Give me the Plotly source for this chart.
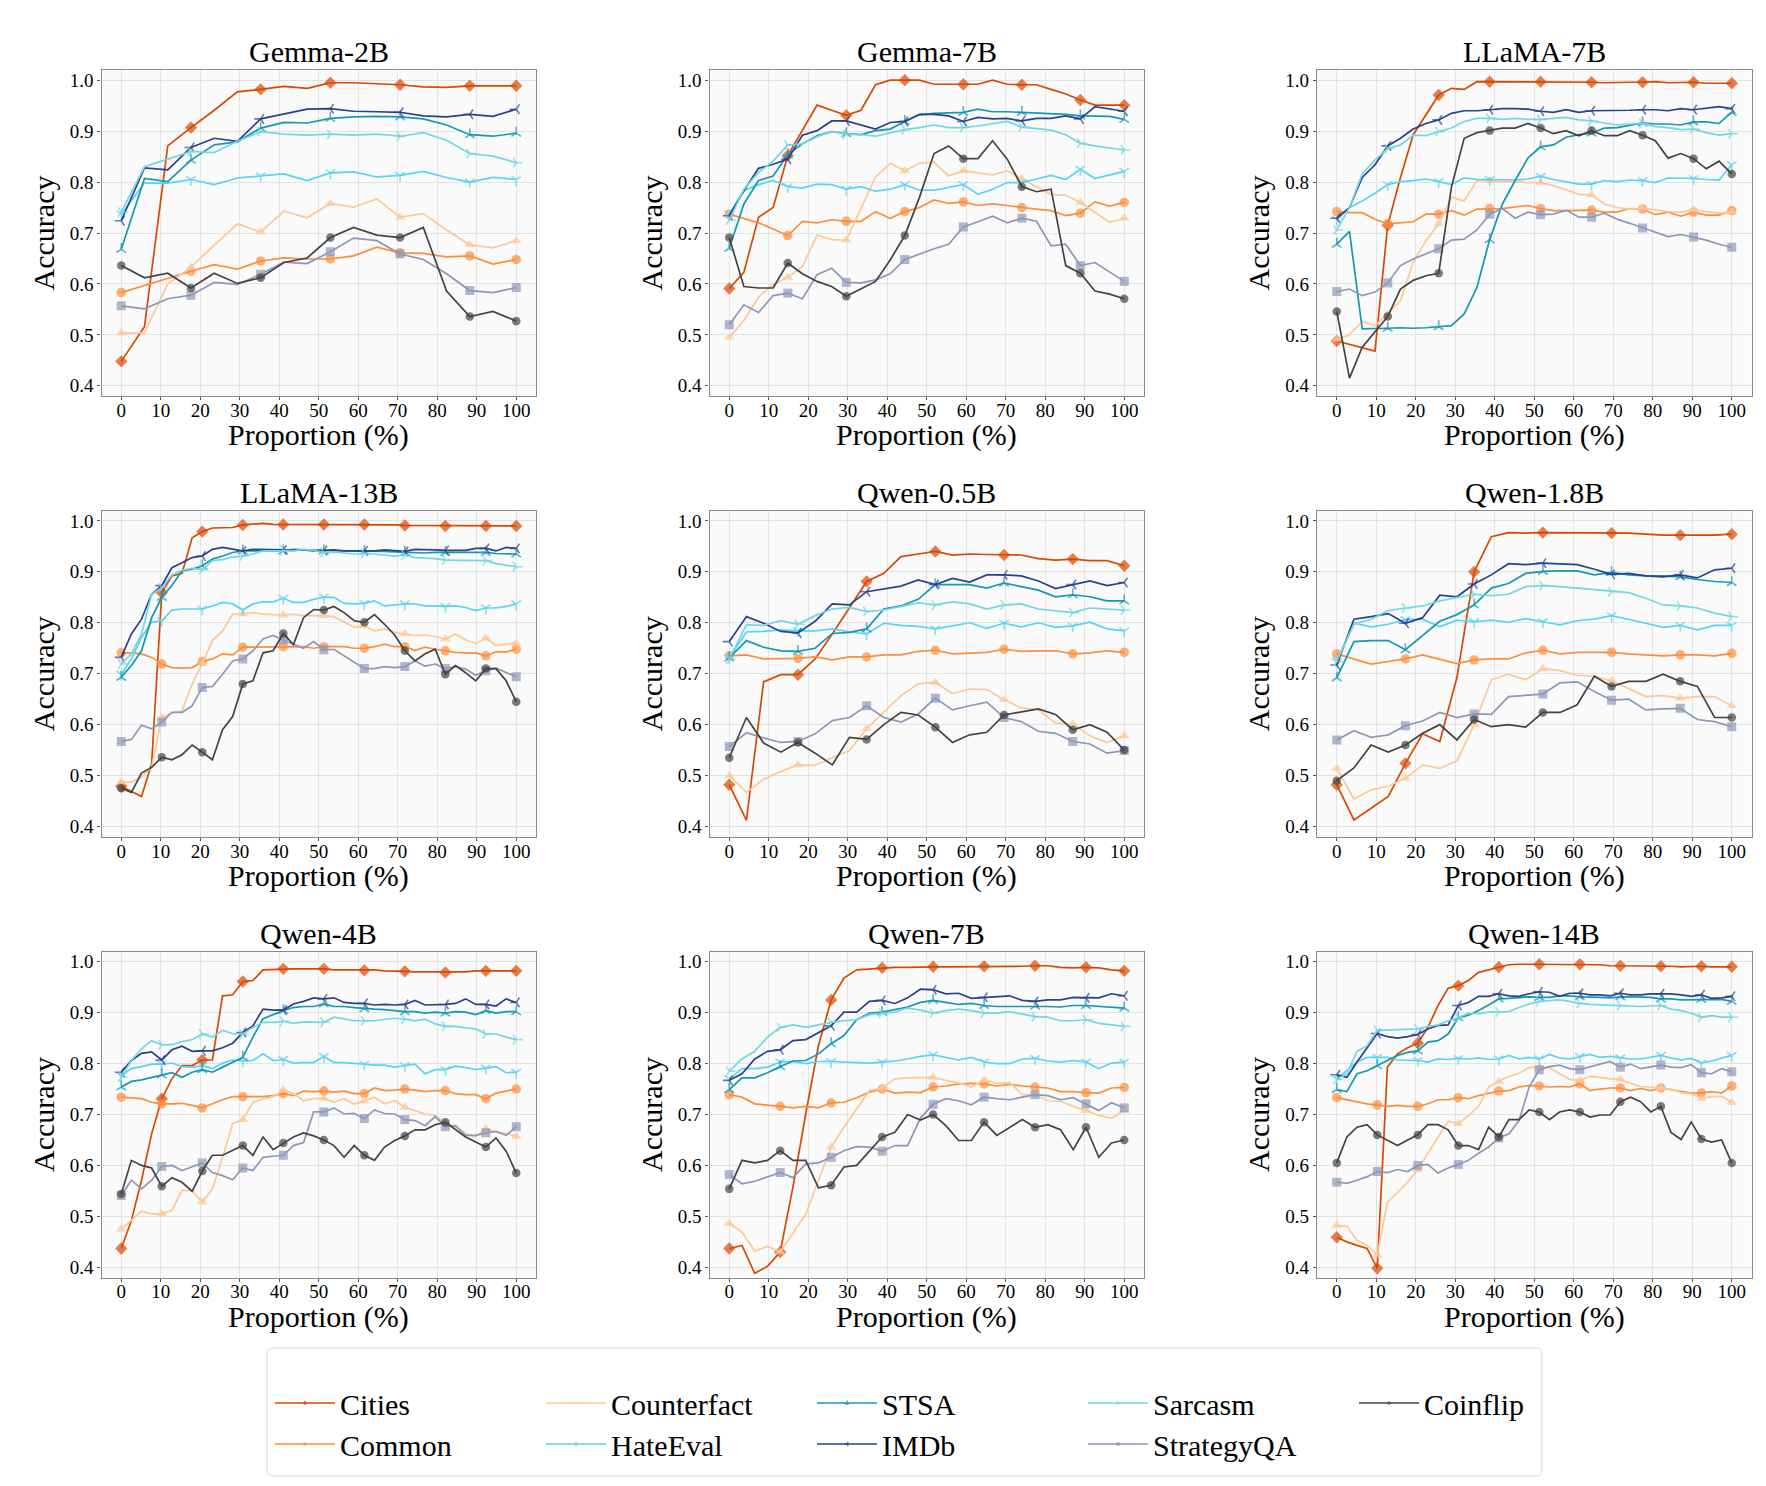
import plotly.graph_objects as go

# ---------------- data ----------------
MODELS = ["Gemma-2B", "Gemma-7B", "LLaMA-7B", "LLaMA-13B", "Qwen-0.5B",
          "Qwen-1.8B", "Qwen-4B", "Qwen-7B", "Qwen-14B"]
SERIES = ["Cities", "Common", "Counterfact", "HateEval", "STSA", "IMDb",
          "Sarcasm", "StrategyQA", "Coinflip"]
X_TICKS = [0, 10, 20, 30, 40, 50, 60, 70, 80, 90, 100]
Y_TICKS = [0.4, 0.5, 0.6, 0.7, 0.8, 0.9, 1.0]

GEMMA_2B = {
    "Cities": [0.448,0.516,0.871,0.907,0.941,0.977,0.982,0.988,0.984,0.995,0.995,0.993,0.991,0.987,0.986,0.989,0.989,0.989],
    "Common": [0.583,0.597,0.612,0.625,0.638,0.629,0.645,0.651,0.649,0.649,0.655,0.672,0.661,0.660,0.653,0.655,0.639,0.648],
    "Counterfact": [0.504,0.504,0.600,0.633,0.676,0.718,0.702,0.743,0.730,0.758,0.751,0.767,0.731,0.738,0.706,0.677,0.671,0.685],
    "HateEval": [0.737,0.798,0.798,0.805,0.795,0.808,0.812,0.816,0.803,0.818,0.820,0.810,0.813,0.821,0.809,0.800,0.809,0.805],
    "STSA": [0.668,0.807,0.801,0.843,0.873,0.879,0.906,0.917,0.916,0.925,0.928,0.929,0.928,0.924,0.912,0.893,0.890,0.896],
    "IMDb": [0.724,0.828,0.824,0.868,0.886,0.880,0.924,0.933,0.943,0.944,0.939,0.938,0.937,0.930,0.928,0.933,0.929,0.943],
    "Sarcasm": [0.741,0.830,0.845,0.860,0.858,0.880,0.899,0.894,0.892,0.894,0.892,0.894,0.890,0.897,0.882,0.856,0.851,0.838],
    "StrategyQA": [0.557,0.551,0.571,0.578,0.603,0.599,0.619,0.643,0.640,0.663,0.690,0.685,0.659,0.648,0.620,0.587,0.583,0.593],
    "Coinflip": [0.636,0.612,0.621,0.592,0.621,0.601,0.612,0.642,0.651,0.691,0.711,0.696,0.691,0.711,0.586,0.536,0.546,0.527],
}

GEMMA_7B = {
    "Cities": [0.591,0.623,0.731,0.750,0.852,0.901,0.951,0.941,0.931,0.941,0.991,1.000,1.000,1.000,0.992,0.992,0.992,0.992,1.000,0.992,0.991,0.991,0.982,0.973,0.961,0.951,0.951,0.951],
    "Common": [0.737,0.729,0.720,0.708,0.695,0.723,0.720,0.726,0.723,0.723,0.742,0.729,0.742,0.750,0.765,0.758,0.761,0.754,0.757,0.754,0.750,0.747,0.744,0.734,0.739,0.761,0.753,0.760],
    "Counterfact": [0.495,0.528,0.574,0.599,0.613,0.634,0.696,0.687,0.686,0.748,0.810,0.837,0.822,0.837,0.839,0.812,0.822,0.818,0.814,0.822,0.806,0.791,0.776,0.774,0.760,0.741,0.721,0.729],
    "HateEval": [0.737,0.783,0.795,0.803,0.791,0.788,0.796,0.795,0.786,0.791,0.782,0.786,0.795,0.784,0.784,0.790,0.795,0.776,0.786,0.799,0.799,0.806,0.813,0.805,0.825,0.807,0.814,0.821],
    "STSA": [0.670,0.757,0.803,0.812,0.854,0.875,0.891,0.899,0.895,0.893,0.901,0.904,0.919,0.932,0.935,0.936,0.937,0.943,0.938,0.938,0.937,0.935,0.935,0.933,0.930,0.930,0.929,0.923],
    "IMDb": [0.734,0.783,0.827,0.835,0.845,0.892,0.901,0.920,0.920,0.912,0.904,0.917,0.919,0.933,0.933,0.930,0.919,0.927,0.924,0.925,0.920,0.925,0.925,0.930,0.924,0.948,0.943,0.939],
    "Sarcasm": [0.725,0.786,0.819,0.841,0.873,0.875,0.889,0.899,0.894,0.893,0.890,0.897,0.903,0.907,0.912,0.907,0.907,0.910,0.914,0.919,0.908,0.905,0.902,0.893,0.876,0.871,0.867,0.863],
    "StrategyQA": [0.520,0.559,0.544,0.577,0.582,0.571,0.618,0.631,0.603,0.602,0.608,0.620,0.648,0.659,0.669,0.678,0.712,0.722,0.733,0.720,0.729,0.723,0.675,0.678,0.636,0.642,0.623,0.605],
    "Coinflip": [0.691,0.595,0.592,0.592,0.641,0.620,0.605,0.595,0.576,0.590,0.605,0.647,0.695,0.770,0.856,0.871,0.846,0.846,0.881,0.845,0.791,0.781,0.786,0.636,0.621,0.586,0.580,0.571],
}

LLAMA_7B = {
    "Cities": [0.488,0.481,0.474,0.468,0.715,0.809,0.893,0.933,0.971,0.984,0.982,0.997,0.997,0.997,0.997,0.997,0.997,0.997,0.996,0.996,0.996,0.995,0.996,0.996,0.996,0.997,0.995,0.995,0.996,0.994,0.994,0.994],
    "Common": [0.742,0.740,0.740,0.727,0.718,0.720,0.722,0.737,0.737,0.744,0.735,0.747,0.748,0.748,0.751,0.754,0.748,0.744,0.744,0.744,0.745,0.741,0.741,0.748,0.747,0.736,0.741,0.733,0.741,0.735,0.735,0.744],
    "Counterfact": [0.491,0.500,0.527,0.518,0.541,0.567,0.642,0.685,0.718,0.770,0.763,0.803,0.803,0.801,0.801,0.799,0.799,0.793,0.785,0.776,0.775,0.757,0.750,0.747,0.749,0.745,0.742,0.741,0.745,0.742,0.739,0.741],
    "HateEval": [0.727,0.750,0.763,0.778,0.795,0.801,0.803,0.806,0.801,0.795,0.808,0.805,0.805,0.804,0.804,0.806,0.811,0.805,0.801,0.796,0.796,0.803,0.801,0.804,0.803,0.799,0.808,0.808,0.807,0.805,0.804,0.834],
    "STSA": [0.678,0.703,0.512,0.512,0.513,0.514,0.513,0.514,0.516,0.518,0.541,0.593,0.687,0.757,0.803,0.847,0.869,0.873,0.888,0.893,0.896,0.906,0.907,0.912,0.916,0.914,0.914,0.912,0.918,0.918,0.915,0.937],
    "IMDb": [0.729,0.750,0.809,0.834,0.871,0.886,0.904,0.915,0.922,0.935,0.940,0.940,0.942,0.944,0.944,0.943,0.939,0.937,0.942,0.937,0.940,0.940,0.940,0.941,0.942,0.942,0.940,0.944,0.942,0.945,0.948,0.944],
    "Sarcasm": [0.706,0.750,0.816,0.843,0.866,0.873,0.892,0.891,0.899,0.906,0.919,0.925,0.925,0.923,0.925,0.923,0.923,0.925,0.927,0.922,0.920,0.916,0.912,0.914,0.915,0.909,0.907,0.903,0.904,0.897,0.892,0.895],
    "StrategyQA": [0.585,0.590,0.577,0.584,0.602,0.636,0.649,0.659,0.669,0.686,0.688,0.706,0.737,0.748,0.729,0.741,0.736,0.737,0.745,0.731,0.731,0.739,0.727,0.719,0.710,0.701,0.693,0.697,0.692,0.686,0.678,0.672],
    "Coinflip": [0.546,0.415,0.476,0.505,0.536,0.590,0.607,0.616,0.621,0.790,0.886,0.897,0.901,0.906,0.906,0.915,0.906,0.895,0.901,0.891,0.901,0.891,0.891,0.901,0.892,0.881,0.847,0.856,0.846,0.826,0.841,0.816],
}

LLAMA_13B = {
    "Cities": [0.479,0.469,0.459,0.523,0.859,0.892,0.897,0.967,0.979,0.986,0.987,0.987,0.992,0.993,0.995,0.993,0.993,0.993,0.993,0.993,0.993,0.993,0.993,0.993,0.993,0.992,0.992,0.992,0.991,0.991,0.990,0.990,0.990,0.990,0.990,0.990,0.990,0.990,0.990,0.990],
    "Common": [0.741,0.741,0.739,0.732,0.719,0.712,0.711,0.712,0.724,0.729,0.739,0.737,0.752,0.752,0.753,0.753,0.753,0.753,0.753,0.750,0.753,0.753,0.753,0.750,0.750,0.753,0.758,0.753,0.753,0.746,0.752,0.748,0.745,0.742,0.741,0.741,0.735,0.743,0.743,0.748],
    "Counterfact": [0.487,0.487,0.497,0.516,0.614,0.623,0.627,0.680,0.720,0.765,0.784,0.817,0.818,0.820,0.817,0.816,0.815,0.817,0.814,0.814,0.814,0.812,0.801,0.791,0.794,0.784,0.788,0.781,0.778,0.775,0.776,0.773,0.768,0.778,0.766,0.759,0.770,0.755,0.758,0.760],
    "HateEval": [0.699,0.729,0.771,0.801,0.804,0.825,0.827,0.827,0.827,0.833,0.840,0.837,0.825,0.837,0.841,0.841,0.848,0.840,0.840,0.846,0.850,0.850,0.838,0.837,0.838,0.843,0.833,0.835,0.837,0.837,0.833,0.833,0.832,0.833,0.830,0.824,0.829,0.829,0.832,0.837],
    "STSA": [0.693,0.716,0.745,0.810,0.850,0.873,0.902,0.905,0.912,0.925,0.931,0.938,0.941,0.941,0.941,0.942,0.941,0.944,0.943,0.942,0.941,0.941,0.941,0.941,0.940,0.940,0.940,0.939,0.938,0.938,0.937,0.938,0.938,0.937,0.938,0.938,0.938,0.936,0.935,0.935],
    "IMDb": [0.732,0.778,0.807,0.856,0.873,0.908,0.918,0.928,0.931,0.944,0.948,0.944,0.941,0.944,0.944,0.944,0.943,0.942,0.943,0.941,0.942,0.943,0.941,0.941,0.941,0.941,0.943,0.941,0.940,0.944,0.944,0.943,0.942,0.942,0.942,0.946,0.946,0.941,0.948,0.946],
    "Sarcasm": [0.719,0.739,0.778,0.856,0.869,0.894,0.903,0.907,0.904,0.922,0.924,0.929,0.931,0.935,0.941,0.941,0.942,0.941,0.944,0.942,0.938,0.939,0.937,0.935,0.936,0.935,0.933,0.931,0.933,0.928,0.927,0.926,0.923,0.923,0.923,0.923,0.922,0.916,0.913,0.910],
    "StrategyQA": [0.567,0.571,0.599,0.592,0.605,0.624,0.624,0.637,0.673,0.675,0.699,0.725,0.729,0.745,0.768,0.775,0.766,0.758,0.750,0.763,0.747,0.748,0.735,0.722,0.710,0.710,0.714,0.712,0.714,0.725,0.715,0.719,0.710,0.714,0.709,0.697,0.706,0.711,0.703,0.694],
    "Coinflip": [0.475,0.467,0.505,0.516,0.536,0.531,0.541,0.560,0.546,0.531,0.590,0.616,0.680,0.686,0.741,0.745,0.779,0.757,0.810,0.826,0.825,0.832,0.820,0.804,0.801,0.816,0.797,0.776,0.745,0.725,0.739,0.748,0.699,0.716,0.702,0.686,0.710,0.710,0.686,0.645],
}

QWEN_05B = {
    "Cities": [0.482,0.412,0.684,0.698,0.698,0.729,0.778,0.830,0.881,0.897,0.930,0.935,0.940,0.933,0.935,0.934,0.933,0.933,0.926,0.923,0.925,0.922,0.922,0.912],
    "Common": [0.735,0.737,0.729,0.730,0.730,0.733,0.727,0.733,0.733,0.737,0.737,0.744,0.746,0.739,0.741,0.742,0.748,0.744,0.745,0.745,0.739,0.741,0.745,0.742],
    "Counterfact": [0.500,0.467,0.493,0.508,0.521,0.520,0.535,0.549,0.592,0.625,0.657,0.680,0.683,0.661,0.670,0.669,0.649,0.633,0.629,0.603,0.601,0.578,0.565,0.578],
    "HateEval": [0.731,0.782,0.783,0.786,0.784,0.784,0.788,0.782,0.778,0.799,0.795,0.793,0.788,0.794,0.800,0.789,0.799,0.792,0.800,0.791,0.794,0.801,0.788,0.784],
    "STSA": [0.731,0.765,0.752,0.745,0.744,0.750,0.779,0.781,0.788,0.827,0.833,0.846,0.875,0.875,0.875,0.868,0.878,0.871,0.864,0.851,0.855,0.851,0.843,0.843],
    "IMDb": [0.763,0.812,0.799,0.783,0.780,0.803,0.837,0.835,0.861,0.866,0.872,0.884,0.875,0.887,0.880,0.894,0.894,0.892,0.882,0.867,0.875,0.882,0.873,0.879],
    "Sarcasm": [0.729,0.796,0.795,0.804,0.797,0.814,0.827,0.830,0.822,0.825,0.832,0.839,0.835,0.841,0.837,0.827,0.835,0.837,0.827,0.824,0.820,0.829,0.827,0.825],
    "StrategyQA": [0.557,0.584,0.574,0.565,0.567,0.582,0.608,0.614,0.637,0.614,0.605,0.621,0.652,0.629,0.637,0.644,0.614,0.606,0.587,0.583,0.567,0.562,0.544,0.549],
    "Coinflip": [0.535,0.614,0.564,0.546,0.565,0.544,0.521,0.575,0.571,0.600,0.624,0.619,0.595,0.565,0.580,0.585,0.619,0.625,0.631,0.620,0.590,0.600,0.585,0.550],
}

QWEN_18B = {
    "Cities": [0.482,0.413,0.436,0.459,0.524,0.582,0.567,0.693,0.900,0.969,0.977,0.976,0.977,0.977,0.977,0.977,0.976,0.976,0.974,0.972,0.972,0.972,0.972,0.974],
    "Common": [0.739,0.729,0.719,0.724,0.729,0.737,0.729,0.720,0.727,0.729,0.729,0.741,0.746,0.739,0.742,0.742,0.742,0.739,0.737,0.735,0.737,0.737,0.735,0.740],
    "Counterfact": [0.514,0.454,0.472,0.479,0.495,0.521,0.514,0.529,0.600,0.688,0.699,0.688,0.710,0.706,0.697,0.695,0.686,0.670,0.655,0.657,0.652,0.655,0.655,0.637],
    "HateEval": [0.724,0.799,0.792,0.797,0.806,0.807,0.792,0.805,0.802,0.805,0.801,0.808,0.802,0.796,0.804,0.807,0.814,0.807,0.799,0.791,0.795,0.786,0.795,0.795],
    "STSA": [0.692,0.763,0.765,0.765,0.747,0.775,0.803,0.816,0.835,0.868,0.877,0.897,0.901,0.902,0.902,0.894,0.899,0.894,0.892,0.892,0.890,0.885,0.881,0.879],
    "IMDb": [0.717,0.807,0.812,0.818,0.799,0.810,0.854,0.851,0.876,0.894,0.916,0.914,0.917,0.915,0.914,0.905,0.895,0.897,0.892,0.890,0.894,0.888,0.904,0.907],
    "Sarcasm": [0.724,0.797,0.807,0.824,0.829,0.833,0.843,0.850,0.856,0.853,0.856,0.871,0.873,0.871,0.868,0.865,0.861,0.859,0.848,0.835,0.833,0.829,0.819,0.812],
    "StrategyQA": [0.570,0.588,0.575,0.580,0.598,0.607,0.624,0.614,0.621,0.620,0.655,0.658,0.660,0.682,0.684,0.665,0.648,0.650,0.629,0.631,0.632,0.610,0.606,0.596],
    "Coinflip": [0.490,0.515,0.560,0.546,0.560,0.583,0.600,0.570,0.610,0.596,0.600,0.595,0.624,0.624,0.639,0.695,0.675,0.685,0.685,0.699,0.685,0.675,0.614,0.614],
}

QWEN_4B = {
    "Cities": [0.437,0.492,0.571,0.662,0.731,0.770,0.796,0.796,0.807,0.807,0.933,0.935,0.961,0.963,0.984,0.985,0.986,0.986,0.986,0.986,0.986,0.984,0.984,0.984,0.983,0.984,0.982,0.982,0.981,0.980,0.980,0.980,0.979,0.980,0.980,0.982,0.982,0.982,0.982,0.982],
    "Common": [0.734,0.732,0.731,0.724,0.721,0.721,0.722,0.718,0.713,0.721,0.729,0.735,0.735,0.734,0.735,0.737,0.741,0.737,0.746,0.745,0.746,0.744,0.746,0.741,0.741,0.752,0.747,0.748,0.750,0.748,0.745,0.747,0.747,0.741,0.739,0.739,0.731,0.742,0.746,0.750],
    "Counterfact": [0.475,0.492,0.510,0.505,0.505,0.512,0.551,0.551,0.528,0.554,0.615,0.682,0.690,0.724,0.731,0.735,0.748,0.741,0.727,0.731,0.732,0.724,0.731,0.720,0.727,0.734,0.721,0.727,0.714,0.708,0.701,0.698,0.683,0.675,0.663,0.656,0.672,0.665,0.663,0.657],
    "HateEval": [0.776,0.790,0.794,0.799,0.799,0.801,0.794,0.793,0.796,0.790,0.801,0.807,0.805,0.806,0.819,0.806,0.808,0.801,0.802,0.802,0.814,0.802,0.802,0.801,0.799,0.797,0.797,0.793,0.796,0.799,0.780,0.788,0.788,0.795,0.792,0.788,0.791,0.794,0.782,0.783],
    "STSA": [0.754,0.765,0.768,0.773,0.778,0.782,0.773,0.783,0.788,0.783,0.793,0.803,0.812,0.852,0.888,0.896,0.904,0.910,0.912,0.912,0.917,0.912,0.912,0.910,0.908,0.907,0.906,0.904,0.902,0.902,0.899,0.901,0.899,0.902,0.901,0.896,0.904,0.899,0.902,0.902],
    "IMDb": [0.783,0.806,0.820,0.823,0.807,0.827,0.834,0.824,0.825,0.825,0.831,0.840,0.861,0.874,0.907,0.905,0.905,0.917,0.922,0.929,0.927,0.929,0.920,0.918,0.918,0.915,0.916,0.915,0.916,0.924,0.915,0.915,0.916,0.918,0.927,0.916,0.916,0.913,0.927,0.920],
    "Sarcasm": [0.773,0.806,0.829,0.845,0.837,0.837,0.843,0.847,0.858,0.852,0.865,0.859,0.858,0.871,0.881,0.881,0.883,0.879,0.882,0.882,0.881,0.891,0.888,0.884,0.884,0.884,0.887,0.889,0.887,0.884,0.887,0.878,0.873,0.873,0.870,0.868,0.858,0.858,0.852,0.847],
    "StrategyQA": [0.541,0.571,0.554,0.571,0.598,0.600,0.590,0.598,0.605,0.586,0.580,0.572,0.595,0.590,0.616,0.618,0.620,0.639,0.645,0.705,0.705,0.713,0.701,0.702,0.692,0.709,0.702,0.701,0.690,0.688,0.678,0.696,0.676,0.678,0.659,0.659,0.664,0.667,0.659,0.676],
    "Coinflip": [0.544,0.610,0.600,0.595,0.559,0.576,0.567,0.549,0.589,0.620,0.620,0.629,0.639,0.620,0.656,0.631,0.644,0.656,0.664,0.658,0.650,0.639,0.616,0.639,0.620,0.610,0.636,0.649,0.658,0.670,0.670,0.680,0.685,0.670,0.656,0.646,0.636,0.654,0.628,0.585],
}

QWEN_7B = {
    "Cities": [0.437,0.443,0.388,0.402,0.430,0.558,0.701,0.835,0.925,0.968,0.984,0.986,0.988,0.989,0.989,0.990,0.990,0.990,0.990,0.990,0.991,0.991,0.991,0.991,0.992,0.992,0.989,0.988,0.989,0.988,0.984,0.982],
    "Common": [0.739,0.734,0.721,0.719,0.716,0.713,0.716,0.713,0.723,0.724,0.733,0.744,0.750,0.742,0.744,0.743,0.754,0.756,0.760,0.761,0.760,0.756,0.759,0.756,0.754,0.752,0.745,0.745,0.743,0.742,0.752,0.753],
    "Counterfact": [0.486,0.469,0.432,0.441,0.430,0.466,0.504,0.571,0.636,0.675,0.711,0.747,0.752,0.770,0.772,0.772,0.773,0.767,0.762,0.754,0.768,0.761,0.763,0.739,0.739,0.727,0.726,0.716,0.708,0.698,0.693,0.708],
    "HateEval": [0.770,0.790,0.790,0.793,0.803,0.804,0.800,0.804,0.804,0.803,0.803,0.801,0.803,0.805,0.809,0.814,0.817,0.812,0.807,0.812,0.803,0.800,0.800,0.809,0.810,0.805,0.803,0.806,0.803,0.790,0.801,0.803],
    "STSA": [0.749,0.772,0.772,0.782,0.794,0.805,0.806,0.819,0.839,0.855,0.886,0.899,0.901,0.906,0.911,0.920,0.924,0.920,0.916,0.918,0.914,0.912,0.912,0.912,0.913,0.912,0.911,0.914,0.914,0.912,0.911,0.909],
    "IMDb": [0.767,0.780,0.809,0.824,0.827,0.845,0.847,0.861,0.874,0.901,0.901,0.922,0.924,0.918,0.929,0.946,0.945,0.937,0.938,0.928,0.930,0.932,0.933,0.924,0.922,0.925,0.925,0.930,0.929,0.929,0.937,0.933],
    "Sarcasm": [0.785,0.809,0.824,0.852,0.871,0.876,0.871,0.876,0.881,0.884,0.886,0.896,0.899,0.901,0.909,0.905,0.899,0.904,0.907,0.904,0.899,0.899,0.902,0.897,0.892,0.891,0.884,0.884,0.886,0.879,0.876,0.873],
    "StrategyQA": [0.582,0.564,0.569,0.578,0.586,0.576,0.603,0.605,0.616,0.629,0.637,0.636,0.628,0.639,0.639,0.693,0.720,0.731,0.727,0.719,0.734,0.731,0.729,0.734,0.739,0.737,0.729,0.733,0.721,0.708,0.723,0.713],
    "Coinflip": [0.554,0.610,0.605,0.610,0.629,0.610,0.610,0.556,0.561,0.597,0.600,0.629,0.656,0.665,0.700,0.689,0.700,0.678,0.649,0.649,0.685,0.659,0.675,0.690,0.675,0.680,0.670,0.631,0.675,0.616,0.644,0.650],
}

QWEN_14B = {
    "Cities": [0.459,0.450,0.443,0.437,0.398,0.793,0.819,0.831,0.840,0.871,0.914,0.948,0.953,0.963,0.979,0.984,0.989,0.994,0.995,0.995,0.995,0.995,0.995,0.995,0.995,0.995,0.994,0.992,0.992,0.992,0.991,0.992,0.991,0.991,0.990,0.991,0.991,0.990,0.990,0.990],
    "Common": [0.733,0.729,0.724,0.721,0.719,0.716,0.718,0.716,0.716,0.721,0.729,0.729,0.733,0.731,0.737,0.742,0.746,0.747,0.754,0.757,0.756,0.754,0.755,0.754,0.760,0.747,0.750,0.752,0.752,0.747,0.751,0.747,0.752,0.749,0.745,0.742,0.742,0.745,0.742,0.756],
    "Counterfact": [0.482,0.481,0.453,0.443,0.424,0.528,0.546,0.567,0.592,0.623,0.656,0.687,0.682,0.698,0.716,0.754,0.765,0.775,0.781,0.792,0.793,0.792,0.780,0.769,0.767,0.775,0.773,0.770,0.769,0.761,0.755,0.754,0.752,0.750,0.743,0.741,0.731,0.735,0.736,0.724],
    "HateEval": [0.770,0.786,0.803,0.812,0.812,0.812,0.807,0.806,0.806,0.803,0.809,0.808,0.810,0.809,0.811,0.808,0.809,0.816,0.809,0.812,0.809,0.818,0.811,0.809,0.814,0.818,0.812,0.814,0.811,0.809,0.809,0.812,0.816,0.811,0.807,0.810,0.801,0.805,0.810,0.816],
    "STSA": [0.749,0.745,0.780,0.786,0.796,0.806,0.816,0.822,0.825,0.842,0.845,0.858,0.890,0.895,0.904,0.915,0.927,0.928,0.930,0.931,0.930,0.930,0.933,0.933,0.931,0.931,0.930,0.929,0.931,0.931,0.931,0.930,0.927,0.927,0.925,0.925,0.926,0.925,0.926,0.922],
    "IMDb": [0.778,0.773,0.803,0.832,0.859,0.853,0.850,0.853,0.857,0.868,0.875,0.876,0.914,0.920,0.932,0.932,0.937,0.933,0.932,0.937,0.941,0.940,0.932,0.938,0.938,0.935,0.935,0.933,0.938,0.935,0.935,0.937,0.937,0.937,0.935,0.932,0.935,0.928,0.929,0.932],
    "Sarcasm": [0.769,0.780,0.824,0.835,0.865,0.866,0.867,0.867,0.868,0.873,0.876,0.884,0.890,0.899,0.898,0.901,0.901,0.902,0.910,0.917,0.922,0.923,0.925,0.922,0.918,0.916,0.915,0.915,0.914,0.913,0.912,0.913,0.914,0.907,0.904,0.899,0.891,0.894,0.891,0.891],
    "StrategyQA": [0.567,0.565,0.571,0.578,0.588,0.586,0.592,0.588,0.600,0.602,0.585,0.595,0.602,0.610,0.624,0.636,0.654,0.662,0.688,0.754,0.788,0.794,0.797,0.790,0.788,0.793,0.798,0.804,0.793,0.799,0.790,0.793,0.797,0.793,0.792,0.798,0.782,0.780,0.790,0.784],
    "Coinflip": [0.605,0.656,0.675,0.680,0.660,0.649,0.639,0.650,0.660,0.680,0.680,0.670,0.639,0.639,0.631,0.675,0.656,0.690,0.690,0.709,0.705,0.690,0.705,0.709,0.705,0.695,0.699,0.699,0.725,0.734,0.725,0.705,0.716,0.665,0.651,0.685,0.652,0.646,0.650,0.605],
}

MODEL_DATA = [GEMMA_2B, GEMMA_7B, LLAMA_7B, LLAMA_13B, QWEN_05B,
              QWEN_18B, QWEN_4B, QWEN_7B, QWEN_14B]
MARK_EVERY = [3, 4, 4, 4, 4, 4, 4, 4, 4]

# ---------------- style ----------------
FONT = "Liberation Serif, Times New Roman, serif"
COLORS = {
    "Cities": "#D94801", "Common": "#FD8D3C", "Counterfact": "#FDC895",
    "HateEval": "#58D3F6", "STSA": "#1697B3", "IMDb": "#28418C",
    "Sarcasm": "#72D6E3", "StrategyQA": "#8E97B7", "Coinflip": "#434343",
}
SYMBOLS = {
    "Cities": "diamond", "Common": "circle", "Counterfact": "triangle-up",
    "HateEval": "y-down", "STSA": "y-up", "IMDb": "y-left",
    "Sarcasm": "y-right", "StrategyQA": "square", "Coinflip": "circle",
}
SIZES = {
    "Cities": 9.5, "Common": 9.5, "Counterfact": 9.5, "HateEval": 8, "STSA": 8,
    "IMDb": 8, "Sarcasm": 8, "StrategyQA": 9, "Coinflip": 8.5,
}
OPEN_SYMBOLS = {"HateEval", "STSA", "IMDb", "Sarcasm"}
LEGEND_ROW1 = ["Cities", "Counterfact", "STSA", "Sarcasm", "Coinflip"]

W, H = 1766, 1486
COL_PX = [(93.5, 528.0), (701.5, 1136.0), (1309.0, 1743.5)]
ROW_PX = [(62.0, 388.0), (502.7, 828.7), (943.5, 1269.5)]

fig = go.Figure()
layout = {}
annotations = []

for k, model in enumerate(MODEL_DATA):
    r, c = divmod(k, 3)
    idx = k + 1
    xname = "x" if idx == 1 else f"x{idx}"
    yname = "y" if idx == 1 else f"y{idx}"
    x0, x1 = COL_PX[c]
    top, bot = ROW_PX[r]
    xdom = [x0 / W, x1 / W]
    ydom = [1 - bot / H, 1 - top / H]
    n = len(model["Cities"])
    xs = [i * 100.0 / (n - 1) for i in range(n)]
    me = MARK_EVERY[k]
    for s in SERIES:
        vals = model[s]
        sizes = [SIZES[s] if (i % me == 0 or i == n - 1) else 0 for i in range(n)]
        is_open = s in OPEN_SYMBOLS
        fig.add_trace(go.Scatter(
            x=xs, y=vals, mode="lines+markers", name=s,
            line=dict(color=COLORS[s], width=1.7),
            marker=dict(symbol=SYMBOLS[s], size=sizes, color=COLORS[s],
                        line=dict(width=1.6 if is_open else 0, color=COLORS[s])),
            xaxis=xname, yaxis=yname, legendgroup=s,
            legend="legend" if s in LEGEND_ROW1 else "legend2",
            showlegend=(k == 0),
        ))
    axis_common = dict(
        showgrid=True, gridcolor="#E3E3E3", gridwidth=1,
        showline=True, linecolor="#8A8A8A", linewidth=1.3, mirror=True,
        ticks="outside", ticklen=3, tickwidth=1, tickcolor="#555555",
        zeroline=False, tickfont=dict(family=FONT, size=19, color="black"),
        automargin=False,
    )
    layout["xaxis" if idx == 1 else f"xaxis{idx}"] = dict(
        axis_common, domain=xdom, anchor=yname, range=[-5, 105],
        tickvals=X_TICKS, ticktext=[str(v) for v in X_TICKS],
        ticklabelstandoff=-6,
    )
    layout["yaxis" if idx == 1 else f"yaxis{idx}"] = dict(
        axis_common, domain=ydom, anchor=xname, range=[0.38, 1.02],
        tickvals=Y_TICKS, ticktext=[f"{v:.1f}" for v in Y_TICKS],
        title=dict(text="Accuracy", font=dict(family=FONT, size=30, color="black"), standoff=6),
    )
    # subplot title
    annotations.append(dict(
        text=MODELS[k], x=(xdom[0] + xdom[1]) / 2, y=ydom[1], xref="paper", yref="paper",
        xanchor="center", yanchor="bottom", showarrow=False, yshift=0,
        font=dict(family=FONT, size=30, color="black"),
    ))
    # x-axis title
    annotations.append(dict(
        text="Proportion (%)", x=(xdom[0] + xdom[1]) / 2, y=1 - (bot + 20) / H,
        xref="paper", yref="paper", xanchor="center", yanchor="top", showarrow=False,
        font=dict(family=FONT, size=30, color="black"),
    ))

# legend frame (rounded rectangle)
lx0, lx1 = 259 / W, 1534 / W
ly0, ly1 = 1 - 1468 / H, 1 - 1340 / H
rx, ry = 6 / W, 6 / H
frame_path = (f"M{lx0+rx},{ly1} L{lx1-rx},{ly1} Q{lx1},{ly1} {lx1},{ly1-ry} "
              f"L{lx1},{ly0+ry} Q{lx1},{ly0} {lx1-rx},{ly0} L{lx0+rx},{ly0} "
              f"Q{lx0},{ly0} {lx0},{ly0+ry} L{lx0},{ly1-ry} Q{lx0},{ly1} {lx0+rx},{ly1} Z")

legend_common = dict(
    orientation="h", xanchor="left", yanchor="middle",
    font=dict(family=FONT, size=30, color="black"),
    entrywidth=196, entrywidthmode="pixels", itemwidth=60,
    bgcolor="rgba(0,0,0,0)", borderwidth=0, tracegroupgap=0,
)

fig.update_layout(
    width=W, height=H,
    margin=dict(l=0, r=0, t=0, b=0),
    paper_bgcolor="white", plot_bgcolor="#FAFAFA",
    font=dict(family=FONT, color="black"),
    annotations=annotations,
    shapes=[dict(type="path", path=frame_path, xref="paper", yref="paper",
                 line=dict(color="#D6D6D6", width=1), fillcolor="rgba(0,0,0,0)", layer="below")],
    legend=dict(legend_common, x=262 / W, y=1 - 1395 / H),
    legend2=dict(legend_common, x=262 / W, y=1 - 1436 / H),
    **layout,
)

fig.write_html("out.html")
